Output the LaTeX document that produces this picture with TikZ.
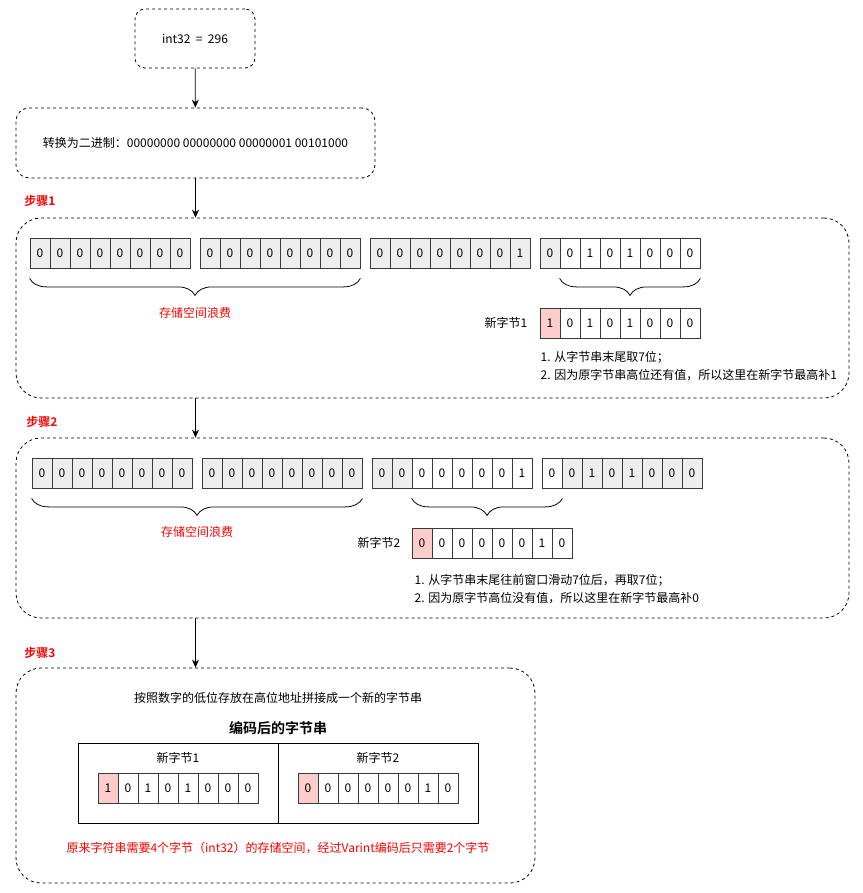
\documentclass[tikz,border=0pt]{standalone}
\usepackage{fontspec}
\setmainfont{Noto Sans CJK SC}[BoldFont={Noto Sans CJK SC Bold}]
\usepackage{tikz}
\usetikzlibrary{positioning,arrows.meta,decorations.pathreplacing}
\definecolor{cg}{HTML}{EEEEEE}
\definecolor{cw}{HTML}{FFFFFF}
\definecolor{cp}{HTML}{FFCCCC}
\definecolor{rtext}{HTML}{FF0000}
\definecolor{edge}{HTML}{36393D}

\begin{document}
\begin{tikzpicture}[x=1pt, y=-1pt, line width=0.8pt,
    box/.style={rectangle, draw=black, dash pattern=on 3pt off 3pt, fill=white,
        text centered, inner sep=0pt},
    cell/.style={rectangle, draw=edge, minimum width=20pt, minimum height=30pt,
        inner sep=0pt},
    note/.style={align=left, anchor=west, font=\fontsize{12}{18}\selectfont},
    steplbl/.style={text=rtext, font=\bfseries\fontsize{12}{14}\selectfont},
    waste/.style={text=rtext},
    brc/.style={decorate, decoration={brace, mirror, amplitude=17pt}, draw=black},
    link/.style={-{Stealth[length=8pt, width=7pt]}, draw=black},
    font=\fontsize{12}{14}\selectfont
]
\useasboundingbox (0,0) rectangle (862,893);

% source value and binary form
\node (val) [box, rounded corners=10pt, minimum width=120pt, minimum height=59pt]
    at (195,38.5) {int32 \ =\ \ 296};
\node (bin) [box, rounded corners=13pt, minimum width=359pt, minimum height=70pt]
    at (195.5,143) {转换为二进制：00000000 00000000 00000001 00101000};

% step 1
\node (step1) [box, rounded corners=25pt, minimum width=833pt, minimum height=180pt]
    at (432.5,308) {};
\node (lbl1) [steplbl] at (40,201) {步骤1};
\foreach \j/\x in {1/30,2/200}
    \foreach \i in {1,...,8}
        \node (sa\j c\i) [cell, fill=cg] at (\x-10+20*\i,253) {0};
\foreach \b [count=\i] in {0,0,0,0,0,0,0,1}
    \node (sa3c\i) [cell, fill=cg] at (360+20*\i,253) {\b};
\foreach \b/\f [count=\i] in {0/g,0/w,1/w,0/w,1/w,0/w,0/w,0/w}
    \node (sa4c\i) [cell, fill=c\f] at (530+20*\i,253) {\b};
\foreach \b/\f [count=\i] in {1/p,0/w,1/w,0/w,1/w,0/w,0/w,0/w}
    \node (na\i) [cell, fill=c\f] at (530+20*\i,323) {\b};
\draw [brc] ([yshift=-10pt]sa1c1.south west) -- ([yshift=-10pt]sa2c8.south east);
\draw [brc] ([yshift=-10pt]sa4c2.south west) -- ([yshift=-10pt]sa4c8.south east);
\node (wastea) [waste] at (195,313) {存储空间浪费};
\node (newa) [anchor=east] at (531,323) {新字节1};
\node (notea) [note] at (537,366) {1. 从字节串末尾取7位；\\2. 因为原字节串高位还有值，所以这里在新字节最高补1};

% step 2
\node (step2) [box, rounded corners=25pt, minimum width=833pt, minimum height=180pt]
    at (432.5,528) {};
\node (lbl2) [steplbl] at (42,422) {步骤2};
\foreach \j/\x in {1/32,2/202}
    \foreach \i in {1,...,8}
        \node (sb\j c\i) [cell, fill=cg] at (\x-10+20*\i,473) {0};
\foreach \b/\f [count=\i] in {0/g,0/g,0/w,0/w,0/w,0/w,0/w,1/w}
    \node (sb3c\i) [cell, fill=c\f] at (362+20*\i,473) {\b};
\foreach \b/\f [count=\i] in {0/w,0/g,1/g,0/g,1/g,0/g,0/g,0/g}
    \node (sb4c\i) [cell, fill=c\f] at (532+20*\i,473) {\b};
\foreach \b/\f [count=\i] in {0/p,0/w,0/w,0/w,0/w,0/w,1/w,0/w}
    \node (nb\i) [cell, fill=c\f] at (402+20*\i,543) {\b};
\draw [brc] ([yshift=-10pt]sb1c1.south west) -- ([yshift=-10pt]sb2c8.south east);
\draw [brc] ([yshift=-10pt]sb3c3.south west) -- ([yshift=-10pt]sb4c1.south east);
\node (wasteb) [waste] at (197,532) {存储空间浪费};
\node (newb) [anchor=east] at (404,543) {新字节2};
\node (noteb) [note] at (411,589) {1. 从字节串末尾往前窗口滑动7位后，再取7位；\\2. 因为原字节高位没有值，所以这里在新字节最高补0};

% step 3
\node (step3) [box, rounded corners=25pt, minimum width=519pt, minimum height=215pt]
    at (275.5,775.5) {};
\node (lbl3) [steplbl] at (40,653) {步骤3};
\node (joined) at (278,698) {按照数字的低位存放在高位地址拼接成一个新的字节串};
\node (enc) [font=\bfseries\fontsize{14}{16}\selectfont] at (278,728) {编码后的字节串};
\node (enca) [rectangle, draw=black, minimum width=200pt, minimum height=80pt] at (178,783) {};
\node (encb) [rectangle, draw=black, minimum width=200pt, minimum height=80pt] at (378,783) {};
\node (tita) at (178,758) {新字节1};
\node (titb) at (378,758) {新字节2};
\foreach \b/\f [count=\i] in {1/p,0/w,1/w,0/w,1/w,0/w,0/w,0/w}
    \node (ea\i) [cell, fill=c\f] at (88+20*\i,788) {\b};
\foreach \b/\f [count=\i] in {0/p,0/w,0/w,0/w,0/w,0/w,1/w,0/w}
    \node (eb\i) [cell, fill=c\f] at (288+20*\i,788) {\b};
\node (summary) [waste] at (278,848) {原来字符串需要4个字节（int32）的存储空间，经过Varint编码后只需要2个字节};

% connectors
\draw [link] (val) -- (bin);
\draw [link] (bin.south) -- (bin.south |- step1.north);
\draw [link] (bin.south |- step1.south) -- (bin.south |- step2.north);
\draw [link] (bin.south |- step2.south) -- (bin.south |- step3.north);
\end{tikzpicture}
\end{document}
